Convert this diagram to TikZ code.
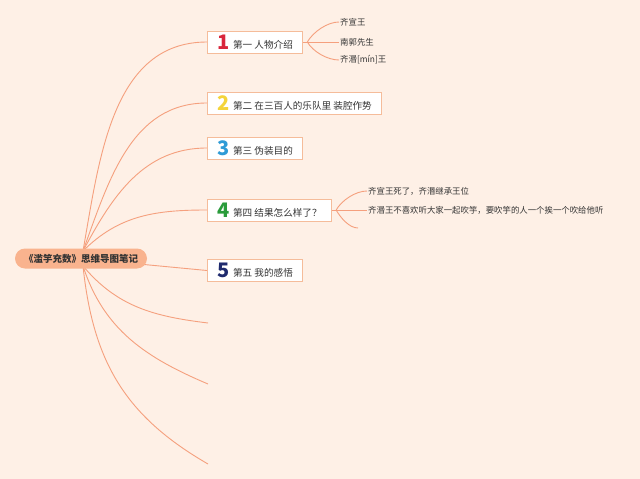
\documentclass[tikz,border=0pt]{standalone}
\usepackage{fontspec}
\newfontfamily\cjk{Noto Sans CJK SC}
\pgfdeclarelayer{back}
\pgfdeclarelayer{bg}
\pgfsetlayers{back,bg,main}
\definecolor{bgc}{HTML}{FEF0E6}
\definecolor{linec}{HTML}{F5A07E}
\definecolor{boxc}{HTML}{F5BC9A}
\definecolor{rootc}{HTML}{F9B38E}
\definecolor{txtc}{HTML}{333333}
\definecolor{nA}{HTML}{D9263C}
\definecolor{nB}{HTML}{F4D43A}
\definecolor{nC}{HTML}{2E9BD6}
\definecolor{nD}{HTML}{2A9B3B}
\definecolor{nE}{HTML}{1E2A6E}
\newcommand\tnum[2]{{\fontsize{20}{20}\selectfont\bfseries\color{#1}\raisebox{-1pt}{#2}}\hspace{3.5pt}}
\tikzset{
  rootbox/.style={fill=rootc, rounded corners=10pt, minimum width=132pt, minimum height=20pt, inner sep=0pt, text=txtc, font=\cjk\bfseries\fontsize{9.5}{10}\selectfont},
  topic/.style={draw=boxc, fill=white, line width=0.9pt, minimum height=22pt, inner xsep=10pt, inner ysep=0pt, anchor=west, text=txtc, font=\cjk\fontsize{9.6}{10}\selectfont},
  leaf/.style={anchor=west, inner xsep=1pt, inner ysep=1pt, text=txtc, font=\cjk\fontsize{8.4}{9}\selectfont},
  branch/.style={draw=linec, line width=0.9pt},
}
\begin{document}
\begin{tikzpicture}[x=1pt,y=-1pt]
\begin{pgfonlayer}{back}
\fill[bgc] (0,0) rectangle (640,479);
\end{pgfonlayer}
\useasboundingbox (0,0) rectangle (640,479);
\node[rootbox] (root) at (81,258.5) {《滥竽充数》思维导图笔记};
\node[topic] (t1) at (207,42) {\tnum{nA}{1}第一 人物介绍};
\node[topic] (t2) at (207,103) {\tnum{nB}{2}第二 在三百人的乐队里 装腔作势};
\node[topic] (t3) at (207,148) {\tnum{nC}{3}第三 伪装目的};
\node[topic] (t4) at (207,210) {\tnum{nD}{4}第四 结果怎么样了？};
\node[topic] (t5) at (207,270.5) {\tnum{nE}{5}第五 我的感悟};
\node[leaf] (a1) at (339,22) {齐宣王};
\node[leaf] (a2) at (339,42) {南郭先生};
\node[leaf] (a3) at (339,60) {齐湣[mín]王};
\node[leaf] (d1) at (367,191) {齐宣王死了，齐湣继承王位};
\node[leaf] (d2) at (367,210) {齐湣王不喜欢听大家一起吹竽，要吹竽的人一个挨一个吹给他听};
\coordinate (d3) at (358,228);
\coordinate (o) at (83,251);
\coordinate (u) at (83,266);
\coordinate (e6) at (208,323);
\coordinate (e7) at (208,384);
\coordinate (e8) at (208,464);
\coordinate (j1) at ([xshift=4pt]t1.east);
\coordinate (j4) at ([xshift=4pt]t4.east);
\begin{pgfonlayer}{bg}
\draw[branch] (o) to[out=80,in=180] (t1.west);
\draw[branch] (o) to[out=70,in=180] (t2.west);
\draw[branch] (o) to[out=62,in=180] (t3.west);
\draw[branch] (o) to[out=45,in=180] (t4.west);
\draw[branch] (root.center) -- (t5.west);
\draw[branch] (u) to[out=-50,in=173] (e6);
\draw[branch] (u) to[out=-72,in=157] (e7);
\draw[branch] (u) to[out=-84,in=150,looseness=1.05] (e8);
\draw[branch] (t1.east) -- (j1);
\draw[branch] (j1) to[out=60,in=180,looseness=0.8] (a1.west);
\draw[branch] (j1) -- (a2.west);
\draw[branch] (j1) to[out=-60,in=180,looseness=0.8] (a3.west);
\draw[branch] (t4.east) -- (j4);
\draw[branch] (j4) to[out=60,in=180,looseness=0.8] (d1.west);
\draw[branch] (j4) -- (d2.west);
\draw[branch] (j4) to[out=-60,in=180,looseness=0.8] (d3);
\end{pgfonlayer}
\end{tikzpicture}
\end{document}
